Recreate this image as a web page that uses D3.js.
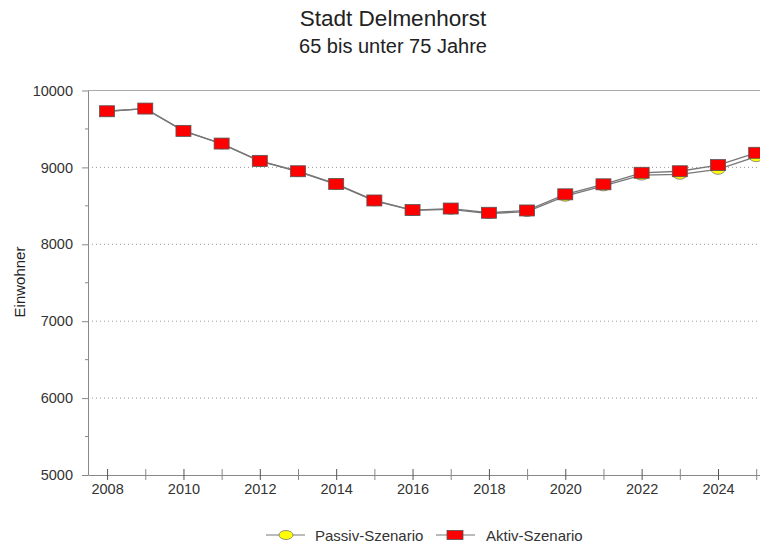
<!DOCTYPE html>
<html>
<head>
<meta charset="utf-8">
<script src="https://cdn.jsdelivr.net/npm/d3@7"></script>
<style>
  body { margin: 0; background: #fff; }
  svg { font-family: "Liberation Sans", Arial, sans-serif; }
</style>
</head>
<body>
<div id="chart"></div>
<script>
// Data
const years = [2008, 2009, 2010, 2011, 2012, 2013, 2014, 2015, 2016, 2017, 2018, 2019, 2020, 2021, 2022, 2023, 2024, 2025];
const aktiv = [9730, 9765, 9475, 9310, 9085, 8950, 8785, 8570, 8445, 8465, 8410, 8440, 8650, 8780, 8930, 8950, 9030, 9190];
const passiv = [9730, 9765, 9475, 9305, 9080, 8945, 8780, 8565, 8440, 8455, 8400, 8425, 8625, 8760, 8900, 8910, 8975, 9140];
const yTicks = [5000, 6000, 7000, 8000, 9000, 10000];
const xTickLabels = [2008, 2010, 2012, 2014, 2016, 2018, 2020, 2022, 2024];

const width = 760, height = 544;
const plot = { left: 88, right: 760, top: 90.5, bottom: 475 };

const svg = d3.select("#chart")
    .append("svg")
    .attr("width", width)
    .attr("height", height);

const x = d3.scaleLinear()
    .domain([2007.5, 2025.1])
    .range([plot.left, plot.right]);

const y = d3.scaleLinear()
    .domain([5000, 10000])
    .range([plot.bottom, plot.top]);

// Titles
svg.append("text")
    .attr("x", 393).attr("y", 26)
    .attr("text-anchor", "middle")
    .attr("font-size", 22.5)
    .attr("fill", "#222")
    .text("Stadt Delmenhorst");

svg.append("text")
    .attr("x", 393).attr("y", 53)
    .attr("text-anchor", "middle")
    .attr("font-size", 20)
    .attr("fill", "#222")
    .text("65 bis unter 75 Jahre");

// Grid lines (dotted)
svg.append("g")
    .selectAll("line")
    .data(yTicks.filter(d => d > 5000 && d < 10000))
    .enter()
    .append("line")
    .attr("x1", plot.left).attr("x2", plot.right)
    .attr("y1", d => y(d)).attr("y2", d => y(d))
    .attr("stroke", "#999")
    .attr("stroke-dasharray", "1,3");

// Top frame line
svg.append("line")
    .attr("x1", plot.left).attr("x2", plot.right)
    .attr("y1", y(10000)).attr("y2", y(10000))
    .attr("stroke", "#aaa");

// Y axis
const yAxis = svg.append("g")
    .attr("transform", `translate(${plot.left},0)`)
    .call(d3.axisLeft(y).tickValues(yTicks).tickSize(6).tickSizeOuter(0).tickFormat(d3.format("d")));
yAxis.select(".domain").attr("stroke", "#888");
yAxis.selectAll(".tick line").attr("stroke", "#888");
yAxis.selectAll("text")
    .attr("x", -15)
    .attr("font-size", 14.5)
    .attr("font-family", "Liberation Sans, Arial, sans-serif")
    .attr("fill", "#333");

// minor y ticks
svg.append("g")
    .selectAll("line")
    .data(d3.range(5500, 10000, 1000))
    .enter()
    .append("line")
    .attr("x1", plot.left - 3).attr("x2", plot.left)
    .attr("y1", d => y(d)).attr("y2", d => y(d))
    .attr("stroke", "#888");

// X axis
const xAxis = svg.append("g")
    .attr("transform", `translate(0,${plot.bottom})`)
    .call(d3.axisBottom(x).tickValues(years).tickSize(6).tickSizeOuter(0)
        .tickFormat(d => xTickLabels.includes(d) ? d : ""));
xAxis.select(".domain").attr("stroke", "#888");
xAxis.selectAll(".tick line")
    .attr("y1", -6)
    .attr("y2", 5)
    .attr("stroke", d => d % 2 === 0 ? "#555" : "#888");
xAxis.selectAll("text")
    .attr("y", 8.5)
    .attr("font-size", 14.5)
    .attr("font-family", "Liberation Sans, Arial, sans-serif")
    .attr("fill", "#333");

// Y label
svg.append("text")
    .attr("transform", "translate(25,282) rotate(-90)")
    .attr("text-anchor", "middle")
    .attr("font-size", 15)
    .attr("fill", "#222")
    .text("Einwohner");

// Lines
const line = d3.line()
    .x((d, i) => x(years[i]))
    .y(d => y(d));

svg.append("path")
    .datum(passiv)
    .attr("d", line)
    .attr("fill", "none")
    .attr("stroke", "#777")
    .attr("stroke-width", 1.3);

svg.append("path")
    .datum(aktiv)
    .attr("d", line)
    .attr("fill", "none")
    .attr("stroke", "#777")
    .attr("stroke-width", 1.3);

// Passiv markers
svg.append("g")
    .selectAll("ellipse")
    .data(passiv)
    .enter()
    .append("ellipse")
    .attr("cx", (d, i) => x(years[i]))
    .attr("cy", d => y(d))
    .attr("rx", 7)
    .attr("ry", 5)
    .attr("fill", "#ffff00")
    .attr("stroke", "#777")
    .attr("stroke-width", 0.8);

// Aktiv markers
svg.append("g")
    .selectAll("rect")
    .data(aktiv)
    .enter()
    .append("rect")
    .attr("x", (d, i) => x(years[i]) - 7.5)
    .attr("y", d => y(d) - 5.5)
    .attr("width", 15)
    .attr("height", 11)
    .attr("fill", "#ff0000")
    .attr("stroke", "#555")
    .attr("stroke-width", 0.8);

// Legend
const legend = svg.append("g");
legend.append("line")
    .attr("x1", 266).attr("x2", 305).attr("y1", 535).attr("y2", 535)
    .attr("stroke", "#777");
legend.append("ellipse")
    .attr("cx", 286).attr("cy", 535).attr("rx", 7).attr("ry", 4.5)
    .attr("fill", "#ffff00").attr("stroke", "#777").attr("stroke-width", 0.8);
legend.append("text")
    .attr("x", 315).attr("y", 540.5)
    .attr("font-size", 15).attr("fill", "#333")
    .text("Passiv-Szenario");

legend.append("line")
    .attr("x1", 436).attr("x2", 475).attr("y1", 535).attr("y2", 535)
    .attr("stroke", "#777");
legend.append("rect")
    .attr("x", 447).attr("y", 530.5).attr("width", 16).attr("height", 9)
    .attr("fill", "#ff0000").attr("stroke", "#555").attr("stroke-width", 0.8);
legend.append("text")
    .attr("x", 486).attr("y", 540.5)
    .attr("font-size", 15).attr("fill", "#333")
    .text("Aktiv-Szenario");
</script>
</body>
</html>
